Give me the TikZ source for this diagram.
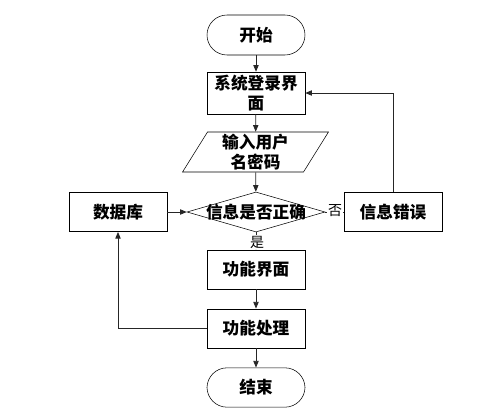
\documentclass[tikz,border=0pt]{standalone}
\usepackage{fontspec}
\setmainfont{Noto Sans CJK SC}
\usetikzlibrary{positioning,shapes.geometric,arrows.meta}
\tikzset{
    boxfont/.style={font=\bfseries\fontsize{12.5}{15}\selectfont},
    terminal/.style={draw, rounded corners=15pt, minimum width=73.5pt, minimum height=30pt, boxfont},
    procbox/.style={draw, minimum width=73.5pt, minimum height=29.5pt, align=center, inner sep=1pt, boxfont},
    iobox/.style={draw, trapezium, trapezium stretches=true, trapezium left angle=65, trapezium right angle=115,
        minimum width=110pt, minimum height=30pt, align=center, inner sep=1pt, boxfont},
    decision/.style={draw, diamond, minimum width=103.5pt, minimum height=30pt, inner sep=0pt, boxfont},
    branch text/.style={font=\fontsize{10.5}{12}\selectfont, fill=white, inner sep=1pt},
    flow/.style={draw=black!85, line width=0.6pt, -{Triangle[length=5pt, width=4pt]}},
    link/.style={draw=black!85, line width=0.6pt}
}

\begin{document}
\begin{tikzpicture}[x=0.75pt, y=-0.75pt]
    \useasboundingbox (0,0) rectangle (493,418);

    % Knoten des Ablaufs
    \node[terminal] (start) at (256,35) {开始};
    \node[procbox, minimum height=31.5pt] (login) at (256,93) {系统登录界\\面};
    \node[iobox] (input) at (255.5,152) {输入用户\\名密码};
    \node[decision] (check) at (256,212) {\makebox[0pt]{信息是否正确}};
    \node[procbox] (db) at (118,212) {数据库};
    \node[procbox] (err) at (393,212) {信息错误};
    \node[procbox] (func) at (256,269.5) {功能界面};
    \node[procbox] (proc) at (256,328.5) {功能处理};
    \node[terminal, minimum height=29.5pt] (stop) at (256,387.5) {结束};

    % Verbindungen
    \draw[flow] (start) -- (login);
    \draw[flow] (login) -- (input);
    \draw[flow] (input) -- (check);
    \draw[flow] (check) -- (func);
    \draw[flow] (func) -- (proc);
    \draw[flow] (proc) -- (stop);
    \draw[flow] (db) -- (check);
    \draw[link] (check) -- (err);
    \draw[flow] (err.north) |- (login.east);
    \draw[flow] (proc.west) -| (db.south);

    % Beschriftung der Zweige
    \node[branch text] (no) at (335,211) {否};
    \node[branch text] (yes) at (257,242) {是};
\end{tikzpicture}
\end{document}
